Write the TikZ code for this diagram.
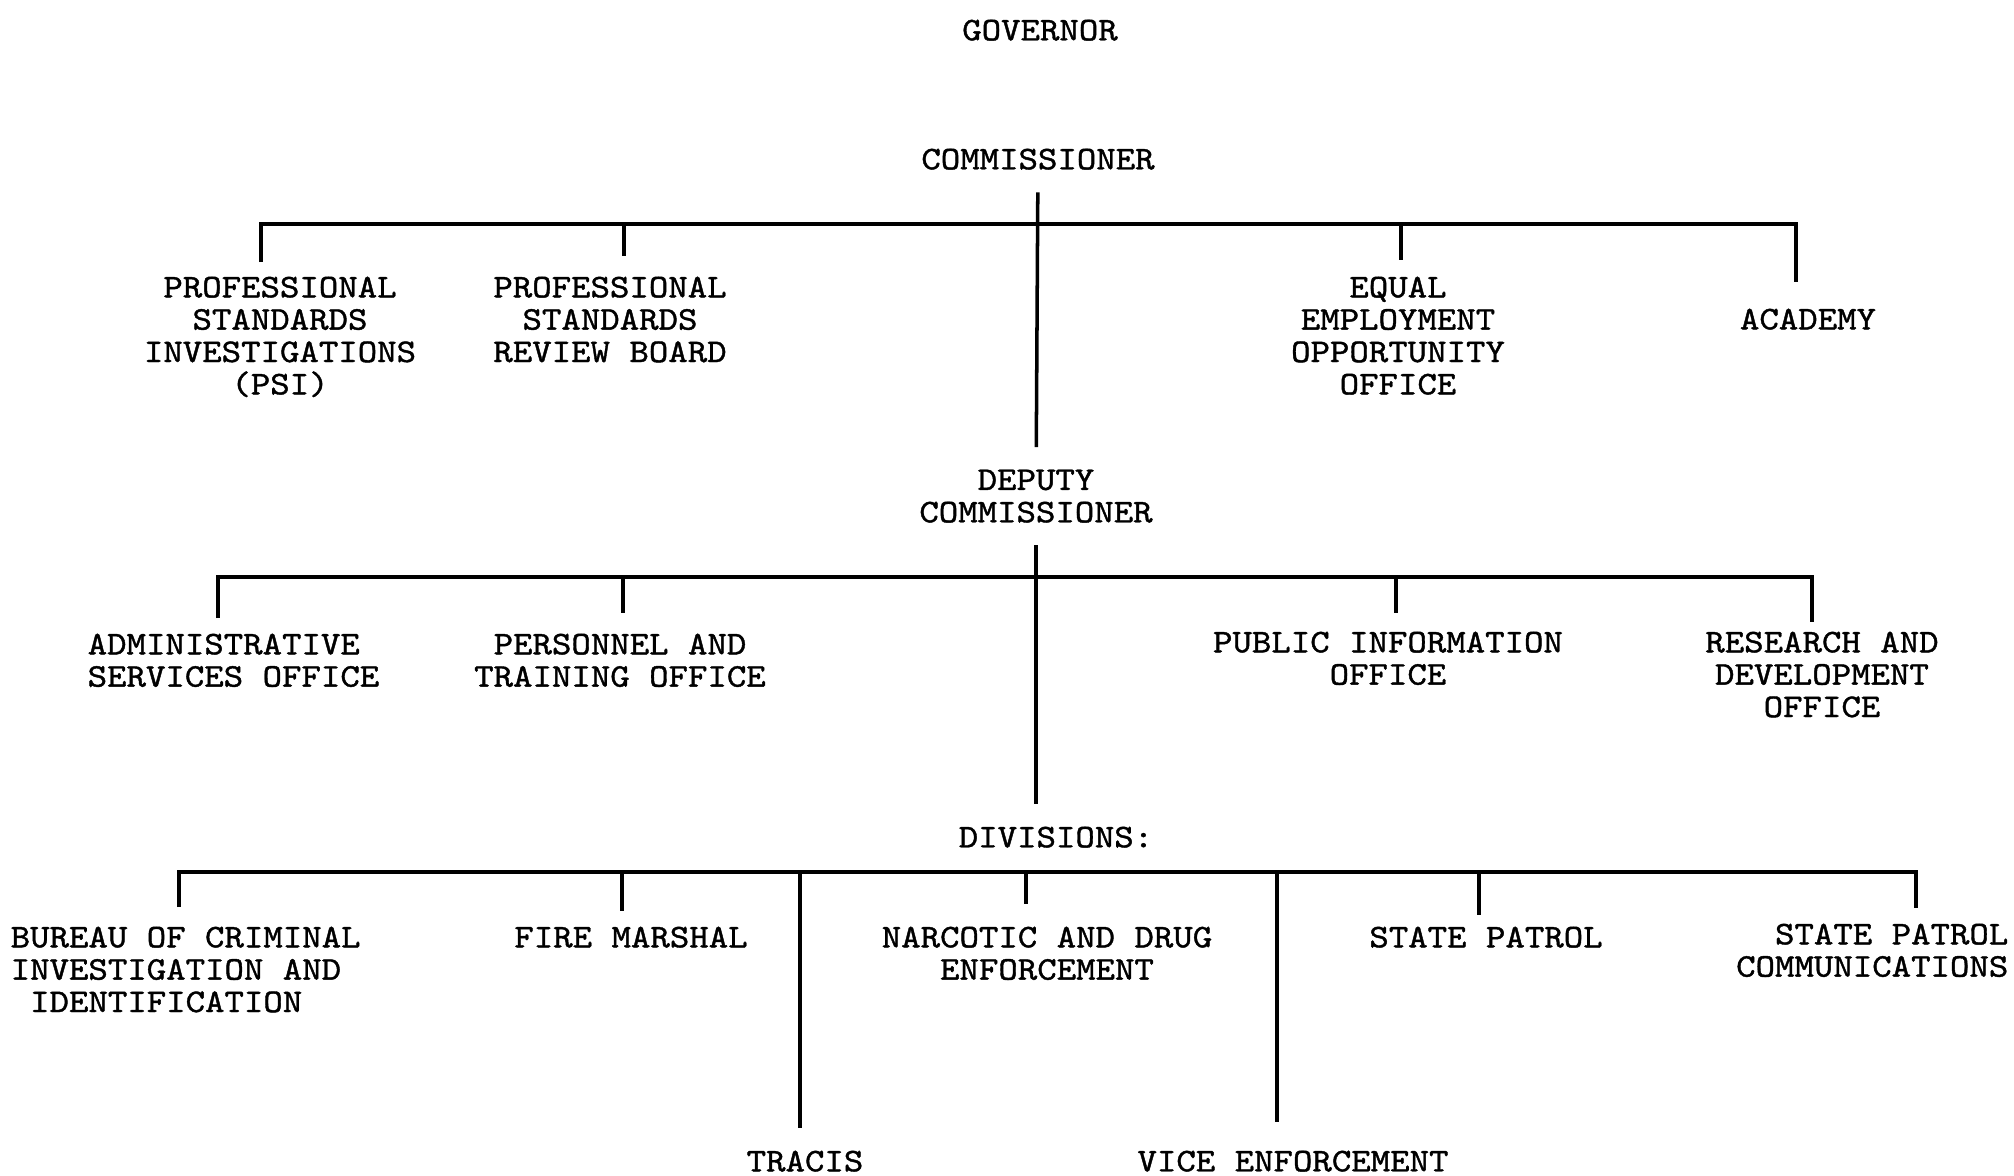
\documentclass[tikz,border=0pt]{standalone}
\usepackage{fontspec}
\newfontfamily\typewriter{lmmono10-regular.otf}[FakeStretch=1.12,FakeBold=1.2]

\begin{document}
\begin{tikzpicture}[
    x=0.01cm, y=-0.01cm,
    font=\typewriter\fontsize{9.4pt}{9.2pt}\selectfont,
    head/.style={anchor=north, inner sep=0.22cm, align=center},
    unit/.style={anchor=north, inner sep=0pt, align=center},
    link/.style={line width=1pt}
]
\useasboundingbox (0,0) rectangle (2014,1175);

% Governor and Commissioner
\node[head] (gov) at (1040,-3) {GOVERNOR};
\node[head] (comm) at (1038,126) {COMMISSIONER};

% Offices under the Commissioner
\node[unit] (psi) at (280,276) {PROFESSIONAL\\STANDARDS\\INVESTIGATIONS\\(PSI)};
\node[unit] (psrb) at (610,276) {PROFESSIONAL\\STANDARDS\\REVIEW BOARD};
\node[unit] (eeo) at (1398,276) {EQUAL\\EMPLOYMENT\\OPPORTUNITY\\OFFICE};
\node[unit] (acad) at (1808,308) {ACADEMY};

\coordinate (comm-bus) at (1038,224);
\coordinate (psi-t) at (261,262);
\coordinate (psrb-t) at (624,256);
\coordinate (eeo-t) at (1401,260);
\coordinate (acad-t) at (1796,282);

% Deputy Commissioner
\node[head] (dep) at (1036,447) {DEPUTY\\COMMISSIONER};

% Offices under the Deputy
\node[unit, anchor=north west, align=left] (admin) at (87,633) {ADMINISTRATIVE\\SERVICES OFFICE};
\node[unit] (pers) at (620,633) {PERSONNEL AND\\TRAINING OFFICE};
\node[unit] (pio) at (1388,631) {PUBLIC INFORMATION\\OFFICE};
\node[unit] (rnd) at (1822,631) {RESEARCH AND\\DEVELOPMENT\\OFFICE};

\coordinate (dep-bus) at (1035,577);
\coordinate (admin-t) at (218,618);
\coordinate (pers-t) at (623,613);
\coordinate (pio-t) at (1396,613);
\coordinate (rnd-t) at (1812,622);

% Divisions
\node[head] (div) at (1056,804) {DIVISIONS:};

\node[unit, anchor=north west, align=left] (bci) at (10,926) {BUREAU OF CRIMINAL\\INVESTIGATION AND\\\ IDENTIFICATION};
\node[unit] (fire) at (631,926) {FIRE MARSHAL};
\node[unit] (narc) at (1047,926) {NARCOTIC AND DRUG\\ENFORCEMENT};
\node[unit] (sp) at (1486,926) {STATE PATROL};
\node[unit, anchor=north east, align=right] (spc) at (2009,923) {STATE PATROL\\COMMUNICATIONS};
\node[unit] (tracis) at (805,1150) {TRACIS};
\node[unit] (vice) at (1293,1150) {VICE ENFORCEMENT};

\coordinate (div-bus) at (1040,872);
\coordinate (bci-t) at (179,907);
\coordinate (fire-t) at (622,911);
\coordinate (narc-t) at (1026,904);
\coordinate (sp-t) at (1479,915);
\coordinate (spc-t) at (1916,908);
\coordinate (tracis-t) at (800,1128);
\coordinate (vice-t) at (1277,1122);

% Connections
\draw[link] (comm) -- (dep);
\draw[link] (dep) -- (dep |- div.north);

\draw[link] (psi-t) -- (psi-t |- comm-bus) -- (acad-t |- comm-bus) -- (acad-t);
\draw[link] (psrb-t |- comm-bus) -- (psrb-t);
\draw[link] (eeo-t |- comm-bus) -- (eeo-t);

\draw[link] (admin-t) -- (admin-t |- dep-bus) -- (rnd-t |- dep-bus) -- (rnd-t);
\draw[link] (pers-t |- dep-bus) -- (pers-t);
\draw[link] (pio-t |- dep-bus) -- (pio-t);

\draw[link] (bci-t) -- (bci-t |- div-bus) -- (spc-t |- div-bus) -- (spc-t);
\draw[link] (fire-t |- div-bus) -- (fire-t);
\draw[link] (narc-t |- div-bus) -- (narc-t);
\draw[link] (sp-t |- div-bus) -- (sp-t);
\draw[link] (tracis-t |- div-bus) -- (tracis-t);
\draw[link] (vice-t |- div-bus) -- (vice-t);

\end{tikzpicture}
\end{document}
